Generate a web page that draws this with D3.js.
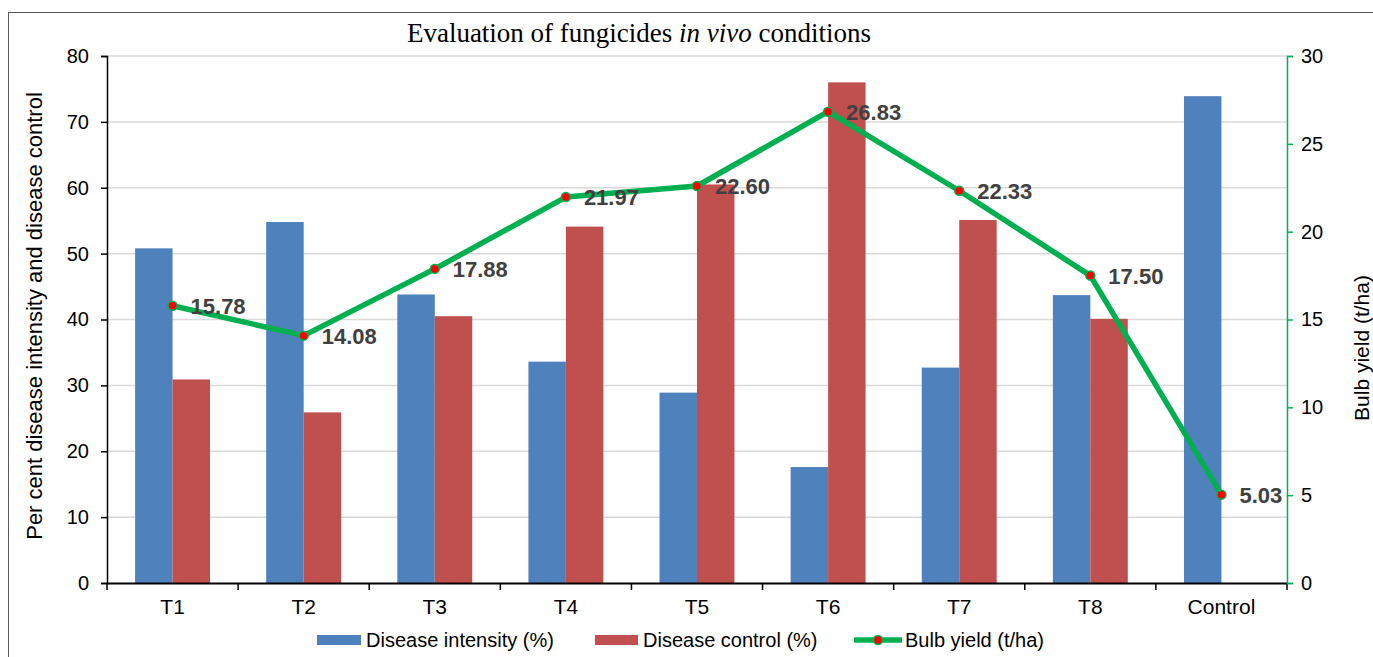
<!doctype html>
<html>
<head>
<style>
  body { margin: 0; background: #fff; }
  text { font-family: "Liberation Sans", Arial, sans-serif; }
</style>
<script src="https://d3js.org/d3.v7.min.js"></script>
</head>
<body>
<svg width="1373" height="657"></svg>
<script>
// data
var treatments = ["T1", "T2", "T3", "T4", "T5", "T6", "T7", "T8", "Control"];
var diseaseIntensity = [50.8, 54.8, 43.8, 33.6, 28.9, 17.6, 32.7, 43.7, 73.9];
var diseaseControl = [30.9, 25.9, 40.5, 54.1, 60.5, 76.0, 55.1, 40.1, 0];
var bulbYield = [15.78, 14.08, 17.88, 21.97, 22.60, 26.83, 22.33, 17.50, 5.03];
var leftTicks = [0, 10, 20, 30, 40, 50, 60, 70, 80];
var rightTicks = [0, 5, 10, 15, 20, 25, 30];

var svg = d3.select("svg");
var plotLeft = 107, plotRight = 1287, plotTop = 56, plotBottom = 583;

// outer frame
svg.append("rect")
   .attr("x", 8.5).attr("y", 12.5)
   .attr("width", 1400).attr("height", 700)
   .attr("fill", "none").attr("stroke", "#595959").attr("stroke-width", 1);

var x = d3.scaleBand().domain(treatments).range([plotLeft, plotRight]);
var xs = d3.scaleBand().domain(["di", "dc"]).range([0, x.bandwidth()]).paddingOuter(0.75);
var y = d3.scaleLinear().domain([0, 80]).range([plotBottom, plotTop]);
var y2 = d3.scaleLinear().domain([0, 30]).range([plotBottom, plotTop]);

// gridlines
svg.append("g").selectAll("line")
   .data(leftTicks.slice(1))
   .enter().append("line")
   .attr("x1", plotLeft).attr("x2", plotRight)
   .attr("y1", function(d) { return y(d); })
   .attr("y2", function(d) { return y(d); })
   .attr("stroke", "#d9d9d9").attr("stroke-width", 1.5);

// bars
var rows = treatments.map(function(t, i) {
    return { t: t, di: diseaseIntensity[i], dc: diseaseControl[i] };
});
var colors = { di: "#4f81bd", dc: "#c0504d" };
["di", "dc"].forEach(function(k) {
    svg.append("g").selectAll("rect")
       .data(rows)
       .enter().append("rect")
       .attr("x", function(d) { return x(d.t) + xs(k); })
       .attr("y", function(d) { return y(d[k]); })
       .attr("width", xs.bandwidth())
       .attr("height", function(d) { return plotBottom - y(d[k]); })
       .attr("fill", colors[k]);
});

// left axis
var ga = svg.append("g")
   .attr("transform", "translate(" + plotLeft + ",0)")
   .call(d3.axisLeft(y).tickValues(leftTicks).tickSize(6).tickPadding(12));
ga.select(".domain").attr("stroke", "#000").attr("stroke-width", 1.5);
ga.selectAll(".tick line").attr("stroke", "#000").attr("stroke-width", 1.5);
ga.selectAll("text").attr("font-size", "20px").attr("fill", "#000")
   .style("font-family", "Liberation Sans, Arial, sans-serif");

// bottom axis with ticks between categories
var gb = svg.append("g")
   .attr("transform", "translate(0," + plotBottom + ")")
   .call(d3.axisBottom(x).tickSize(0).tickPadding(16));
gb.select(".domain").attr("stroke", "#000").attr("stroke-width", 2);
gb.selectAll("text").attr("font-size", "21px").attr("fill", "#000")
   .style("font-family", "Liberation Sans, Arial, sans-serif");
gb.selectAll(".sep")
   .data(treatments.concat(["end"]))
   .enter().append("line")
   .attr("x1", function(d, i) { return plotLeft + i * x.step(); })
   .attr("x2", function(d, i) { return plotLeft + i * x.step(); })
   .attr("y1", 0).attr("y2", 7)
   .attr("stroke", "#000").attr("stroke-width", 1.5);

// right axis
var gr = svg.append("g")
   .attr("transform", "translate(" + plotRight + ",0)")
   .call(d3.axisRight(y2).tickValues(rightTicks).tickSize(6).tickPadding(8));
gr.select(".domain").attr("stroke", "#00b050").attr("stroke-width", 1.5);
gr.selectAll(".tick line").attr("stroke", "#00b050").attr("stroke-width", 1.5);
gr.selectAll("text").attr("font-size", "20px").attr("fill", "#000")
   .style("font-family", "Liberation Sans, Arial, sans-serif");

// yield line
var line = d3.line()
   .x(function(d, i) { return x(treatments[i]) + x.bandwidth() / 2; })
   .y(function(d) { return y2(d); });
svg.append("path")
   .datum(bulbYield)
   .attr("d", line)
   .attr("fill", "none")
   .attr("stroke", "#00b050")
   .attr("stroke-width", 5.5)
   .attr("stroke-linejoin", "round");

svg.append("g").selectAll("circle")
   .data(bulbYield)
   .enter().append("circle")
   .attr("cx", function(d, i) { return x(treatments[i]) + x.bandwidth() / 2; })
   .attr("cy", function(d) { return y2(d); })
   .attr("r", 4.5)
   .attr("fill", "#ff0000")
   .attr("stroke", "#00b050").attr("stroke-width", 1.5);

svg.append("g").selectAll("text")
   .data(bulbYield)
   .enter().append("text")
   .attr("x", function(d, i) { return x(treatments[i]) + x.bandwidth() / 2 + 18; })
   .attr("y", function(d) { return y2(d); })
   .attr("dy", "0.36em")
   .attr("font-size", "22px")
   .attr("font-weight", "bold")
   .attr("fill", "#404040")
   .text(function(d) { return d.toFixed(2); });

// title
var title = svg.append("text")
   .attr("x", 639).attr("y", 42)
   .attr("text-anchor", "middle")
   .style("font-family", "Liberation Serif, Times New Roman, serif")
   .attr("font-size", "27px")
   .attr("fill", "#000");
title.append("tspan").text("Evaluation of fungicides ");
title.append("tspan").attr("font-style", "italic").text("in vivo");
title.append("tspan").text(" conditions");

// axis titles
svg.append("text")
   .attr("transform", "translate(42,316) rotate(-90)")
   .attr("text-anchor", "middle")
   .attr("font-size", "22px")
   .text("Per cent disease intensity and disease control");
svg.append("text")
   .attr("transform", "translate(1369,348) rotate(-90)")
   .attr("text-anchor", "middle")
   .attr("font-size", "21px")
   .text("Bulb yield (t/ha)");

// legend
var legend = svg.append("g").attr("transform", "translate(0,640)");
legend.append("rect").attr("x", 317).attr("y", -5).attr("width", 44).attr("height", 10).attr("fill", colors.di);
legend.append("text").attr("x", 366).attr("y", 0).attr("dy", "0.36em").attr("font-size", "20px").text("Disease intensity (%)");
legend.append("rect").attr("x", 595).attr("y", -5).attr("width", 43).attr("height", 10).attr("fill", colors.dc);
legend.append("text").attr("x", 643).attr("y", 0).attr("dy", "0.36em").attr("font-size", "20px").text("Disease control (%)");
legend.append("line").attr("x1", 854).attr("x2", 902).attr("y1", 0).attr("y2", 0).attr("stroke", "#00b050").attr("stroke-width", 5.5);
legend.append("circle").attr("cx", 878).attr("cy", 0).attr("r", 4.5).attr("fill", "#ff0000").attr("stroke", "#00b050").attr("stroke-width", 1.5);
legend.append("text").attr("x", 905).attr("y", 0).attr("dy", "0.36em").attr("font-size", "20px").text("Bulb yield (t/ha)");
</script>
</body>
</html>
